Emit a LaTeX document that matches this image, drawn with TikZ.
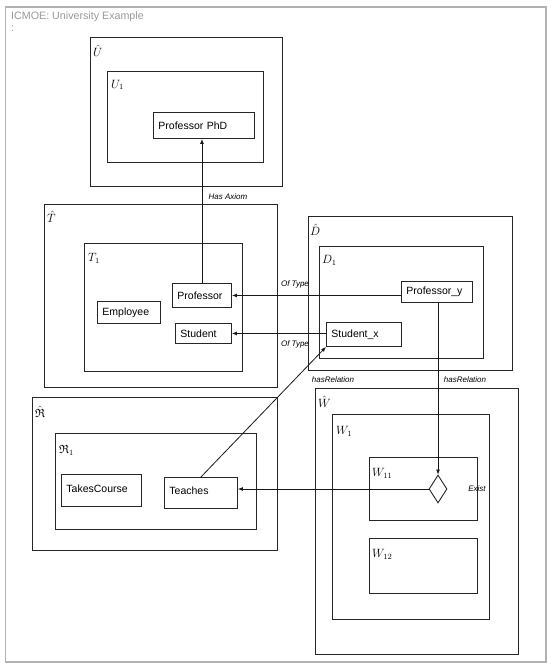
\documentclass[tikz,border=0pt]{standalone}
\usepackage{amssymb}
\usepackage{fontspec}
\setmainfont{Liberation Sans}
\usetikzlibrary{arrows.meta,shapes.geometric}
\begin{document}
\begin{tikzpicture}[x=1pt,y=-1pt,
  frame/.style={draw=black!85, line width=0.9pt, anchor=north west, inner sep=0pt},
  item/.style={draw=black!85, line width=0.9pt, anchor=north west, inner xsep=5pt, inner ysep=0pt, align=left, font=\fontsize{10.5}{12}\selectfont},
  mlab/.style={anchor=west, inner sep=0pt, font=\fontsize{12}{14}\selectfont},
  elab/.style={inner sep=0pt, font=\fontsize{8}{9}\selectfont\itshape},
  arr/.style={-{Latex[length=5pt,width=4pt]}, line width=0.8pt, draw=black!90}]
\useasboundingbox (0,0) rectangle (550,668);
\draw[black!30, line width=1.2pt] (5.5,7) rectangle (546,662);
\node[anchor=west, inner sep=0pt, text=black!40, font=\fontsize{10.7}{12}\selectfont] (title) at (11,17) {ICMOE: University Example};
\node[anchor=west, inner sep=0pt, text=black!40, font=\fontsize{10.7}{12}\selectfont] (colon) at (11,29) {:};
% U
\node[frame, minimum width=192pt, minimum height=149pt] (Uhat) at (90,37) {};
\node[frame, minimum width=156pt, minimum height=91pt] (U1) at (107,71) {};
\node[item, text width=91pt, minimum height=26pt] (phd) at (153,112) {Professor PhD};
\node[mlab] (lUhat) at (93,51) {$\hat{U}$};
\node[mlab] (lU1) at (111,85) {$U_1$};
% T
\node[frame, minimum width=233pt, minimum height=183pt] (That) at (44,204) {};
\node[frame, minimum width=158pt, minimum height=128pt] (T1) at (84,243) {};
\node[item, text width=49pt, minimum height=24pt] (prof) at (172,283) {Professor};
\node[item, text width=53pt, minimum height=22pt] (emp) at (97,301) {Employee};
\node[item, text width=46pt, minimum height=20pt] (stud) at (175,323) {Student};
\node[mlab] (lThat) at (47,217) {$\hat{T}$};
\node[mlab] (lT1) at (88,258) {$T_1$};
% D
\node[frame, minimum width=204pt, minimum height=154pt] (Dhat) at (308,216) {};
\node[frame, minimum width=164pt, minimum height=112pt] (D1) at (319,246) {};
\node[item, text width=61pt, minimum height=21pt] (profy) at (401,281) {Professor\_y};
\node[item, text width=65pt, minimum height=24pt] (studx) at (326,322) {Student\_x};
\node[mlab] (lDhat) at (310,230) {$\hat{D}$};
\node[mlab] (lD1) at (322,260) {$D_1$};
% R
\node[frame, minimum width=245pt, minimum height=153pt] (Rhat) at (32,397) {};
\node[frame, minimum width=201pt, minimum height=96pt] (R1) at (55,433) {};
\node[item, text width=70pt, minimum height=32pt] (takes) at (61,474) {\raisebox{4pt}{TakesCourse}};
\node[item, text width=63pt, minimum height=31pt] (teach) at (164,477) {\raisebox{4pt}{Teaches}};
\node[mlab] (lRhat) at (35,412) {$\hat{\mathfrak{R}}$};
\node[mlab] (lR1) at (59,450) {$\mathfrak{R}_1$};
% W
\node[frame, minimum width=203pt, minimum height=266pt] (What) at (315,388) {};
\node[frame, minimum width=157pt, minimum height=205pt] (W1) at (332,414) {};
\node[frame, minimum width=108pt, minimum height=63pt] (W11) at (369,457) {};
\node[frame, minimum width=108pt, minimum height=55pt] (W12) at (369,538) {};
\node[mlab] (lWhat) at (318,402) {$\hat{W}$};
\node[mlab] (lW1) at (336,431) {$W_1$};
\node[mlab] (lW11) at (372,473) {$W_{11}$};
\node[mlab] (lW12) at (372,554) {$W_{12}$};
\node[diamond, draw=black!85, line width=0.9pt, inner sep=0pt, minimum width=18pt, minimum height=28pt, aspect=0.64] (exist) at (438,489) {};
% connectors
\draw[arr] (prof.north) -- (prof.north |- phd.south);
\draw[arr] (profy.west |- prof.east) -- (prof.east);
\draw[arr] (studx.west |- stud.east) -- (stud.east);
\draw[arr] (teach.north) -- (studx.south west);
\draw[arr] (exist.north |- profy.south) -- (exist.north);
\draw[arr] (exist.west) -- (teach.east |- exist.west);
% connector labels
\node[elab] (tAxiom) at (228,197) {Has Axiom};
\node[elab] (tType1) at (295,284) {Of Type};
\node[elab] (tType2) at (295,344) {Of Type};
\node[elab] (tRel1) at (333,380) {hasRelation};
\node[elab] (tRel2) at (465,380) {hasRelation};
\node[elab] (tExist) at (477,489) {Exist};
\end{tikzpicture}
\end{document}
